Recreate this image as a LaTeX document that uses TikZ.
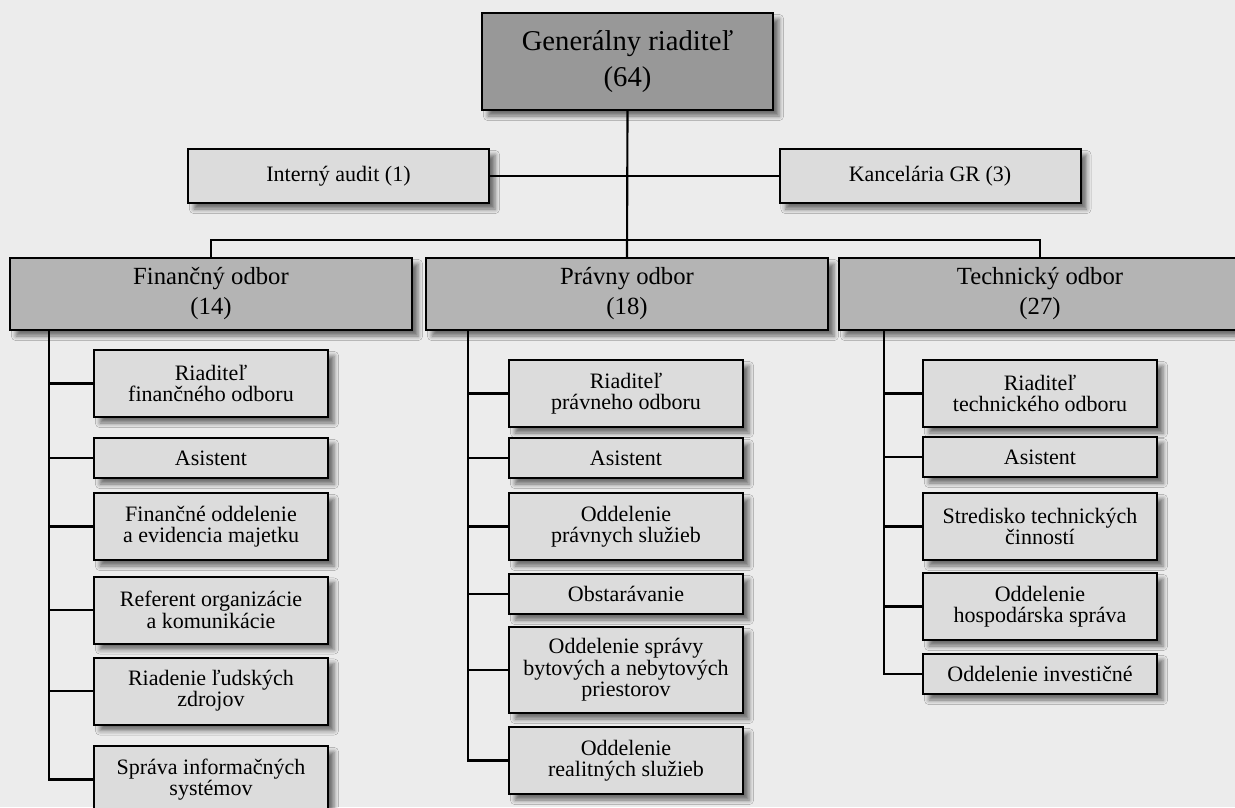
\documentclass[tikz,border=0pt]{standalone}
\usepackage{fontspec}
\setmainfont{Liberation Serif}
\usetikzlibrary{shadows.blur}

\definecolor{bgcol}{RGB}{236,236,236}
\definecolor{grfill}{RGB}{152,152,152}
\definecolor{odborfill}{RGB}{180,180,180}
\definecolor{subfill}{RGB}{220,220,220}

\tikzset{every picture/.style={line width=0.75pt}}
\tikzset{
  box/.style={draw, line width=1.5pt, inner sep=0pt, align=center,
    blur shadow={shadow xshift=4.5pt, shadow yshift=-4.5pt, shadow blur radius=3.5pt, shadow opacity=55}},
  grbox/.style={box, fill=grfill, minimum width=218.25pt, minimum height=72.75pt,
    font=\fontsize{21.5}{27.5}\selectfont},
  staffbox/.style={box, fill=subfill, minimum width=225.75pt, minimum height=40.5pt,
    font=\fontsize{16.5}{17}\selectfont},
  odborbox/.style={box, fill=odborfill, minimum width=301.5pt, minimum height=54pt,
    font=\fontsize{18.5}{22.5}\selectfont},
  subbox/.style={box, fill=subfill, minimum width=175.5pt, minimum height=50.25pt,
    font=\fontsize{16.5}{16}\selectfont},
  onerow/.style={minimum height=30pt},
  link/.style={line width=1.6pt},
}

\begin{document}
\begin{tikzpicture}[x=0.75pt,y=0.75pt,yscale=-1,xscale=1]
%Background
\fill [bgcol] (0,0) rectangle (1235,807);
\useasboundingbox (0,0) rectangle (1235,807);

%Shape: Box -- top
\node [grbox] (gr) at (627.5,61.5) {Generálny riaditeľ\\(64)};
\node [staffbox] (audit) at (338.5,176) {Interný audit (1)};
\node [staffbox] (kanc) at (930,176) {Kancelária GR (3)};

%Shape: Box -- odbory
\node [odborbox] (fin) at (211,294) {Finančný odbor\\(14)};
\node [odborbox] (prav) at (627,294) {Právny odbor\\(18)};
\node [odborbox] (tech) at (1040,294) {Technický odbor\\(27)};
\coordinate (bus) at (627,240);

%Shape: Box -- financny odbor
\node [subbox] (fr1) at (211,383.5) {Riaditeľ\\finančného odboru};
\node [subbox, onerow] (fr2) at (211,458) {Asistent};
\node [subbox] (fr3) at (211,526.5) {Finančné oddelenie\\a evidencia majetku};
\node [subbox] (fr4) at (211,610) {Referent organizácie\\a komunikácie};
\node [subbox] (fr5) at (211,691) {Riadenie ľudských\\zdrojov};
\node [subbox] (fr6) at (211,779.5) {Správa informačných\\systémov};
\coordinate (finrail) at (49,0);

%Shape: Box -- pravny odbor
\node [subbox] (pr1) at (626,393.5) {Riaditeľ\\právneho odboru};
\node [subbox, onerow] (pr2) at (626,458) {Asistent};
\node [subbox] (pr3) at (626,526.5) {Oddelenie\\právnych služieb};
\node [subbox, onerow] (pr4) at (626,594) {Obstarávanie};
\node [subbox, minimum height=64.5pt] (pr5) at (626,670) {Oddelenie správy\\bytových a nebytových\\priestorov};
\node [subbox] (pr6) at (626,760.5) {Oddelenie\\realitných služieb};
\coordinate (pravrail) at (468,0);

%Shape: Box -- technicky odbor
\node [subbox] (tr1) at (1040,393.5) {Riaditeľ\\technického odboru};
\node [subbox, onerow] (tr2) at (1040,457) {Asistent};
\node [subbox] (tr3) at (1040,526.5) {Stredisko technických\\činností};
\node [subbox] (tr4) at (1040,606.5) {Oddelenie\\hospodárska správa};
\node [subbox, onerow] (tr5) at (1040,674) {Oddelenie investičné};
\coordinate (techrail) at (884,0);

%Straight Lines -- vedenie
\draw [link] (gr.south) -- (prav.north);
\draw [link] (audit.east) -- (kanc.west);
\draw [link] (fin.north) |- (bus) -| (tech.north);

%Straight Lines -- odbory
\draw [link] (fin.south -| finrail) |- (fr6.west);
\foreach \n in {fr1,fr2,fr3,fr4,fr5}
  \draw [link] (\n.west) -- (\n.west -| finrail);
\draw [link] (prav.south -| pravrail) |- (pr6.west);
\foreach \n in {pr1,pr2,pr3,pr4,pr5}
  \draw [link] (\n.west) -- (\n.west -| pravrail);
\draw [link] (tech.south -| techrail) |- (tr5.west);
\foreach \n in {tr1,tr2,tr3,tr4}
  \draw [link] (\n.west) -- (\n.west -| techrail);

\end{tikzpicture}
\end{document}
